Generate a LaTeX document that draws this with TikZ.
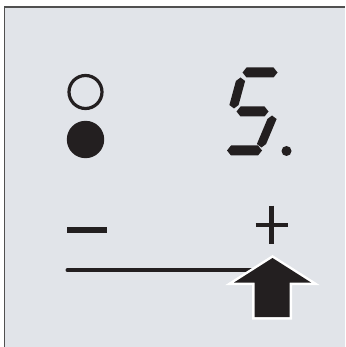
\documentclass[tikz,border=0pt]{standalone}
\usepackage{tikz}
\definecolor{panelgray}{HTML}{E1E4E9}
\definecolor{inkblack}{HTML}{231F20}
\definecolor{rimgray}{HTML}{505050}
\tikzset{
  panel/.style={fill=panelgray},
  rim/.style={draw=rimgray, line width=1.4pt},
  seg/.style={fill=inkblack},
  signbar/.style={draw=inkblack, line width=4.6pt},
  pushbtn/.style={fill=inkblack, line join=miter, preaction={draw=white, line width=5pt, line join=miter}}
}
% horizontal and vertical display segments
\newcommand{\segh}[3]{\fill[seg] (#1,#3) -- ({#1+4},{#3-5}) -- ({#2-4},{#3-5}) -- (#2,#3) -- ({#2-4},{#3+5}) -- ({#1+4},{#3+5}) -- cycle;}
\newcommand{\segv}[4]{\fill[seg] (#1,#2) -- ({#1+4.6},{#2+3.5}) -- ({#3+4.6},{#4-3.5}) -- (#3,#4) -- ({#3-4.6},{#4-3.5}) -- ({#1-4.6},{#2+3.5}) -- cycle;}
\begin{document}
\begin{tikzpicture}[x=1pt,y=-1pt]
  \useasboundingbox (0,0) rectangle (345,347);
  \fill[white] (0,0) rectangle (345,347);
  \fill[panel] (4.5,7) rectangle (345,347);
  \draw[rim] (4.5,347) -- (4.5,7) -- (345,7);

  % indicator lamps
  \draw[draw=inkblack, line width=3.2pt] (85.5,92) circle (16.5);
  \fill[seg] (85.5,139.5) circle (18.7);

  % digit 5 and point
  \segh{242.5}{277.5}{72.5}
  \segv{240.5}{77.5}{234}{108.5}
  \segh{236.5}{268.5}{111.5}
  \segv{272}{115.5}{261.5}{147.5}
  \segh{227}{262}{150.5}
  \fill[seg] (286.5,151) circle (5);

  % minus and plus
  \draw[signbar, line width=5.3pt] (67,230) -- (107,230);
  \draw[signbar] (255.5,225) -- (287.5,225);
  \draw[signbar] (271.3,205.5) -- (271.3,244.3);

  % slider line and arrow
  \draw[draw=inkblack, line width=4pt, line cap=round] (67.5,270.3) -- (260,270.3);
  \path[pushbtn] (272.5,258) -- (311,282.5) -- (289.5,282.5) -- (289.5,317)
    -- (254.5,317) -- (254.5,282.5) -- (234,282.5) -- cycle;
\end{tikzpicture}
\end{document}
